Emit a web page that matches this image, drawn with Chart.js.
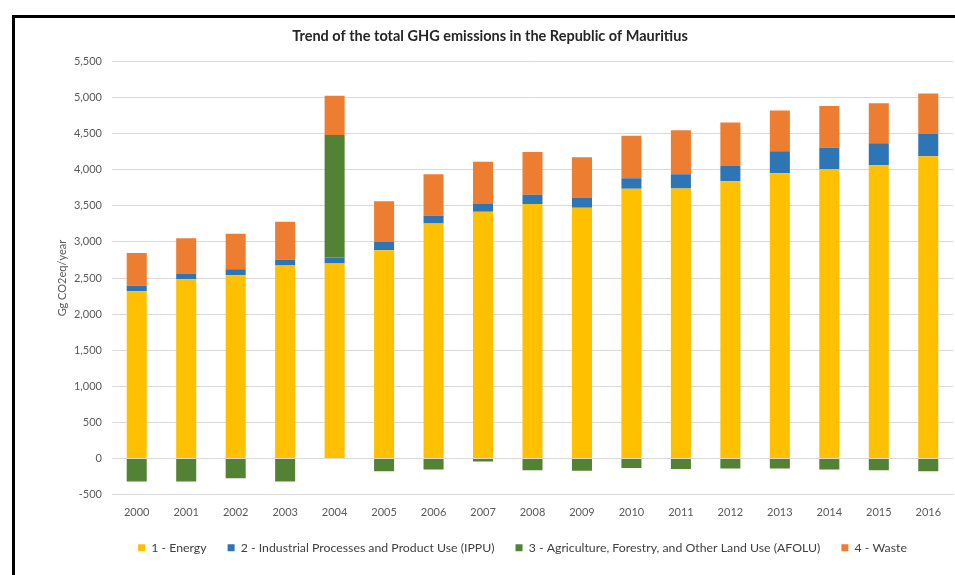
<!DOCTYPE html>
<html>
<head>
<meta charset="utf-8">
<title>Trend of the total GHG emissions in the Republic of Mauritius</title>
<script src="https://cdn.jsdelivr.net/npm/chart.js@4.4.1/dist/chart.umd.min.js"></script>
<style>
  html, body { margin: 0; padding: 0; background: #fff; overflow: hidden; }
  #wrap { position: relative; width: 955px; height: 575px; }
  #frame {
    position: absolute; left: 12px; top: 15px; width: 980px; height: 600px;
    border-left: 3px solid #000; border-top: 3px solid #000; pointer-events: none;
  }
  canvas { position: absolute; left: 0; top: 0; }
</style>
</head>
<body>
<div id="wrap">
  <canvas id="chart" width="955" height="575"></canvas>
  <div id="frame"></div>
</div>
<script>
// Inventory years
const years = ['2000','2001','2002','2003','2004','2005','2006','2007','2008',
               '2009','2010','2011','2012','2013','2014','2015','2016'];

// Emissions by sector, Gg CO2eq/year
const energy = [2318, 2484, 2539, 2673, 2700, 2884, 3257, 3418, 3524,
                3473, 3735, 3740, 3841, 3951, 4011, 4062, 4186];
const ippu   = [74, 78, 83, 82, 83, 115, 106, 106, 128,
                143, 147, 196, 212, 304, 295, 303, 313];
const afolu  = [-317, -317, -271, -317, 1697, -175, -152, -41, -161,
                -170, -129, -145, -138, -138, -152, -161, -175];
const waste  = [455, 488, 492, 525, 543, 566, 575, 588, 594,
                556, 589, 609, 602, 566, 575, 557, 556];

// Sector names shown in the legend
const sectorNames = [
  '1 - Energy',
  '2 - Industrial Processes and Product Use (IPPU)',
  '3 - Agriculture, Forestry, and Other Land Use (AFOLU)',
  '4 - Waste'
];

const FONT = 'Lato, "Open Sans", sans-serif';
const GRID = '#d9d9d9';

function bar(label, data, color) {
  return {
    label, data,
    backgroundColor: color,
    borderWidth: 0,
    categoryPercentage: 1,
    barPercentage: 0.405
  };
}

// Shift the bottom legend a little left of the plot-area centre
const legendShift = {
  id: 'legendShift',
  afterLayout(chart) {
    const lg = chart.legend;
    if (lg) { lg.left -= 10; lg.right -= 10; }
  }
};

new Chart(document.getElementById('chart'), {
  type: 'bar',
  data: {
    labels: years,
    datasets: [
      bar(sectorNames[0], energy, '#ffc000'),
      bar(sectorNames[1], ippu,   '#2e75b6'),
      bar(sectorNames[2], afolu,  '#548235'),
      bar(sectorNames[3], waste,  '#ed7d31')
    ]
  },
  plugins: [legendShift],
  options: {
    responsive: false,
    animation: false,
    layout: { padding: { left: 27, right: 2, top: 0, bottom: 11 } },
    plugins: {
      title: {
        display: true,
        text: 'Trend of the total GHG emissions in the Republic of Mauritius',
        color: '#262626',
        font: { family: FONT, size: 14.5, weight: 'bold', lineHeight: 1.2 },
        padding: { top: 28, bottom: 16 }
      },
      legend: {
        position: 'bottom',
        fullSize: false,
        labels: {
          color: '#404040',
          font: { family: FONT, size: 12.3 },
          boxWidth: 7,
          boxHeight: 7,
          padding: 21
        }
      },
      tooltip: { enabled: false }
    },
    scales: {
      x: {
        stacked: true,
        grid: { display: false, drawTicks: false },
        border: { display: true, color: GRID, width: 1 },
        ticks: { color: '#595959', font: { family: FONT, size: 11 }, padding: 11 },
        afterFit(scale) { scale.height = 26; }
      },
      y: {
        stacked: true,
        min: -500,
        max: 5500,
        grid: { color: GRID, lineWidth: 1, drawTicks: false },
        border: { display: false },
        ticks: {
          stepSize: 500,
          color: '#595959',
          font: { family: FONT, size: 11 },
          padding: 10,
          callback: v => v.toLocaleString('en-US')
        },
        title: {
          display: true,
          text: 'Gg CO2eq/year',
          color: '#595959',
          font: { family: FONT, size: 11 },
          padding: { top: 29, bottom: 0 }
        },
        afterFit(scale) { scale.width = 85; }
      }
    }
  }
});
</script>
</body>
</html>
